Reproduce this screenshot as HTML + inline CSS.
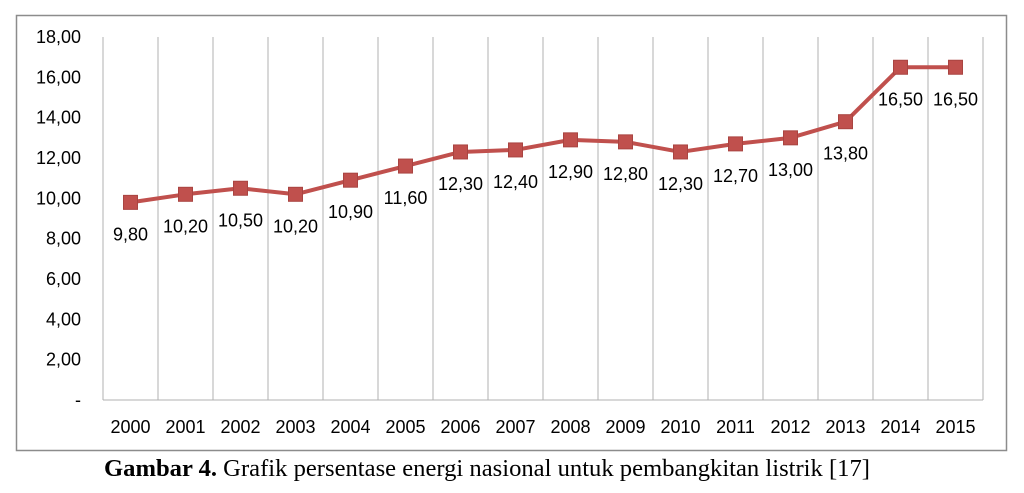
<!DOCTYPE html>
<html><head><meta charset="utf-8"><style>
body{margin:0;background:#fff;width:1024px;height:488px;overflow:hidden}
</style></head><body>
<svg width="1024" height="488" xmlns="http://www.w3.org/2000/svg">
<rect x="16.5" y="15.5" width="990" height="435" fill="#fff" stroke="#8c8c8c" stroke-width="1.5"/>
<g id="grid"></g>
<g id="yaxis"></g>
<g id="xaxis"></g>
<g id="series"></g>
<text x="487" y="476" text-anchor="middle" font-family="Liberation Serif, serif" font-size="24" fill="#000" textLength="766" lengthAdjust="spacingAndGlyphs"><tspan font-weight="bold">Gambar 4.</tspan> Grafik persentase energi nasional untuk pembangkitan listrik [17]</text>
</svg>
<script>
const categories=["2000","2001","2002","2003","2004","2005","2006","2007","2008","2009","2010","2011","2012","2013","2014","2015"];
const values=[9.8,10.2,10.5,10.2,10.9,11.6,12.3,12.4,12.9,12.8,12.3,12.7,13.0,13.8,16.5,16.5];
const yTicks=[0,2,4,6,8,10,12,14,16,18];
const yTickLabels=["-","2,00","4,00","6,00","8,00","10,00","12,00","14,00","16,00","18,00"];
const valueLabels=["9,80","10,20","10,50","10,20","10,90","11,60","12,30","12,40","12,90","12,80","12,30","12,70","13,00","13,80","16,50","16,50"];
const NS="http://www.w3.org/2000/svg";
const L=103,R=983,T=37,B=400,ymax=18;
const bw=(R-L)/categories.length;
const x=i=>L+bw*(i+0.5);
const y=v=>B-(v/ymax)*(B-T);
function mk(tag,attrs,parent){const e=document.createElementNS(NS,tag);for(const k in attrs)e.setAttribute(k,attrs[k]);parent.appendChild(e);return e;}
const grid=document.getElementById('grid'),ya=document.getElementById('yaxis'),xa=document.getElementById('xaxis'),se=document.getElementById('series');
for(let i=0;i<=categories.length;i++){
 const gx=L+bw*i;
 const g=mk('line',{x1:gx,x2:gx,y1:T,y2:B,stroke:'#b0b0b0','stroke-width':1},grid);
 
 
}
const ax=mk('line',{x1:L,x2:R,y1:B,y2:B,stroke:'#b0b0b0','stroke-width':1},xa);


yTicks.forEach((v,i)=>{
 const t=mk('text',{x:81,y:y(v)+6,'text-anchor':'end','font-family':'Liberation Sans, sans-serif','font-size':18,fill:'#000'},ya);
 t.textContent=yTickLabels[i];
 
 
});
categories.forEach((c,i)=>{
 const t=mk('text',{x:x(i),y:433,'text-anchor':'middle','font-family':'Liberation Sans, sans-serif','font-size':18,fill:'#000'},xa);
 t.textContent=c;
 
 
});
const pts=values.map((v,i)=>x(i)+','+y(v)).join(' ');
const pl=mk('polyline',{points:pts,fill:'none',stroke:'#c0504d','stroke-width':4,'stroke-linejoin':'round'},se);


values.forEach((v,i)=>{
 const m=mk('rect',{x:x(i)-7,y:y(v)-7,width:14,height:14,fill:'#c0504d',stroke:'#a94441','stroke-width':1},se);
 
 
 const t=mk('text',{x:x(i),y:y(v)+38,'text-anchor':'middle','font-family':'Liberation Sans, sans-serif','font-size':18,fill:'#000'},se);
 t.textContent=valueLabels[i];
 
 
});
</script>
</body></html>
